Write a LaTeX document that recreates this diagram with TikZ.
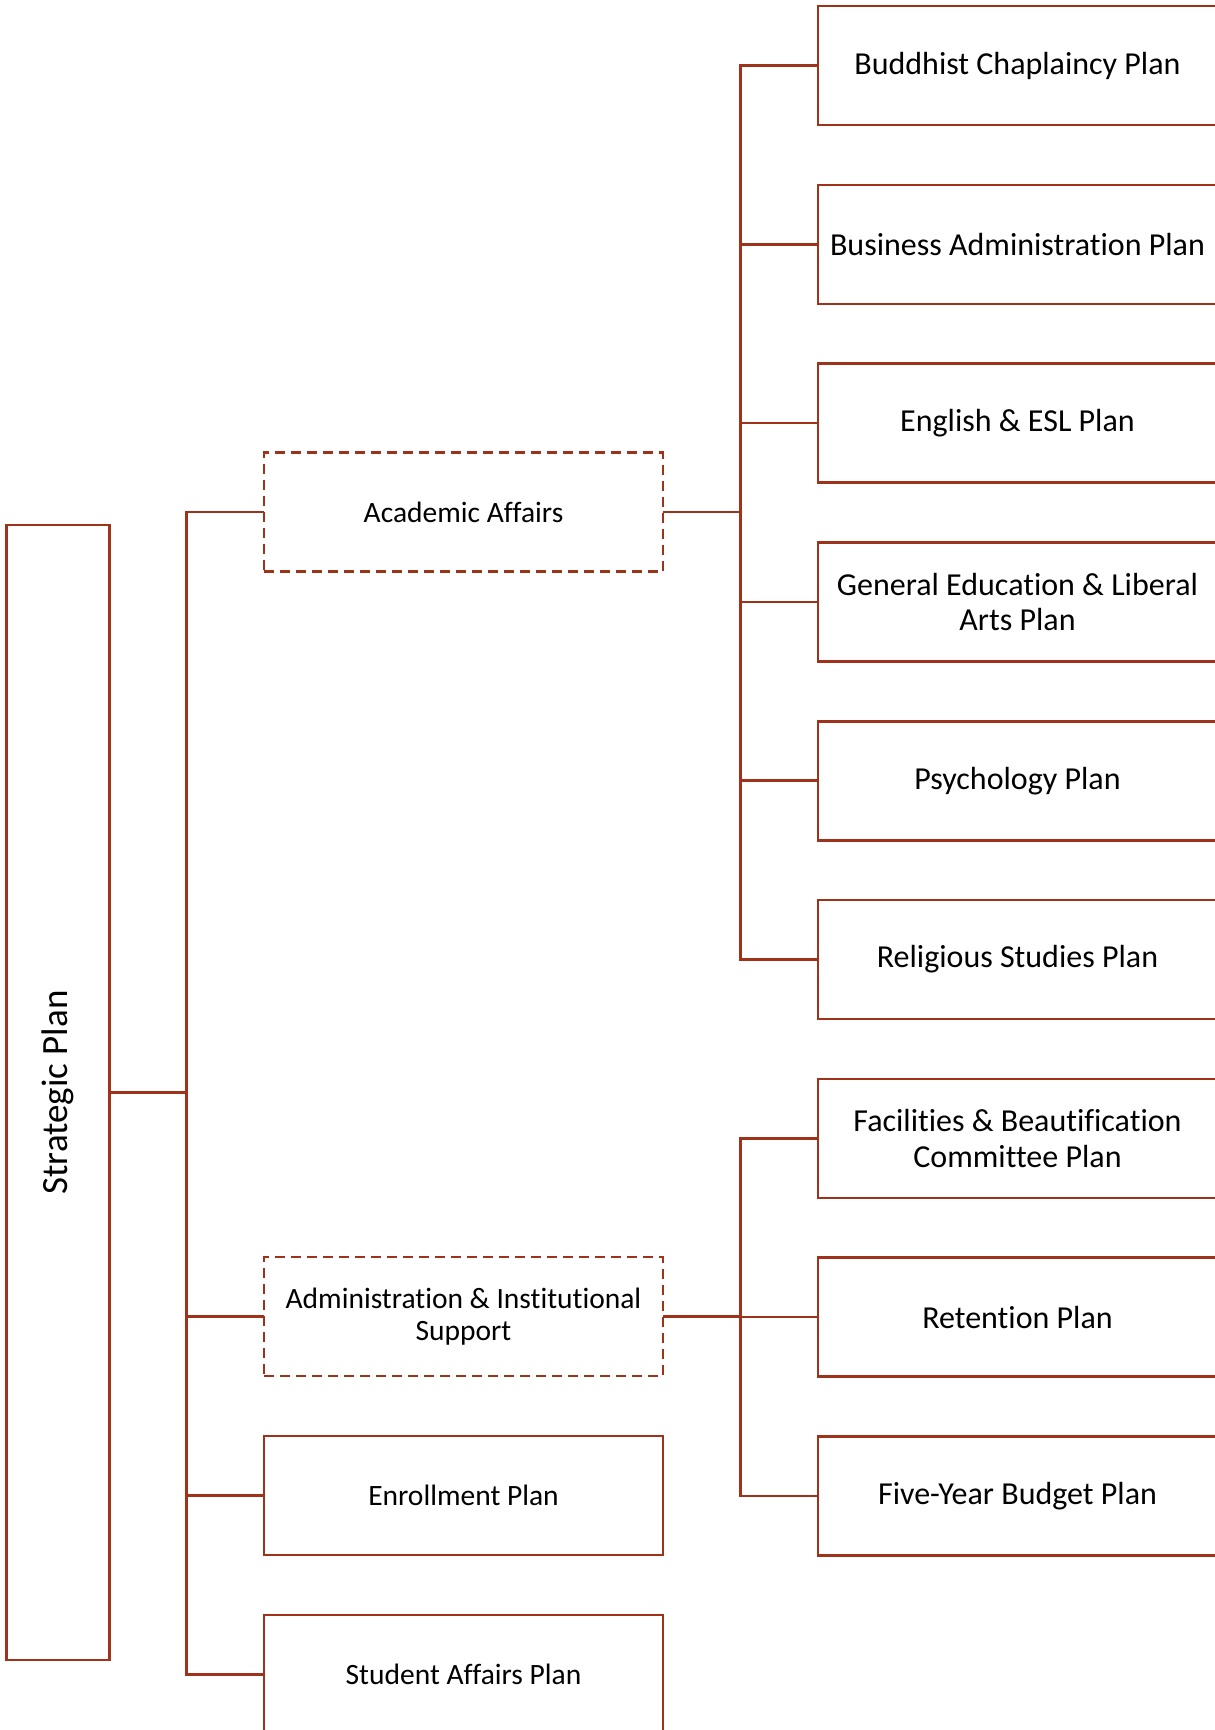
\documentclass[tikz,border=0pt]{standalone}
\usepackage{fontspec}
\setmainfont{Carlito}[Ligatures=NoCommon]
\definecolor{brick}{RGB}{160,50,26}
\begin{document}
\begin{tikzpicture}[x=1pt,y=-1pt,
  line width=2.6pt,
  box/.style={draw=brick, rectangle, minimum width=399pt, minimum height=119pt, inner sep=0pt, outer sep=0pt, align=center},
  bigtxt/.style={font=\fontsize{32}{35.5}\selectfont},
  smalltxt/.style={font=\fontsize{29.5}{32}\selectfont},
  dashbox/.style={box, dash pattern=on 10pt off 6pt},
  conn/.style={draw=brick, line width=2.6pt}]
\path[use as bounding box, clip] (0,0) rectangle (1215,1730);
\fill[white] (0,0) rectangle (1215,1730);
% Strategic plan
\node[draw=brick, rectangle, minimum width=102.5pt, minimum height=1135pt, inner sep=0pt, outer sep=0pt, font=\fontsize{37}{40}\selectfont] (sp) at (58,1092.5) {\rotatebox{90}{Strategic Plan}};
% trunk coordinates
\coordinate (t1) at (186.5,0);
\coordinate (t2) at (740.5,0);
% column 2
\node[dashbox, smalltxt] (aa) at (463.5,512) {Academic Affairs};
\node[dashbox, smalltxt] (ad) at (463.5,1316.5) {Administration \& Institutional\\Support};
\node[box, smalltxt] (en) at (463.5,1495.5) {Enrollment Plan};
\node[box, smalltxt] (sa) at (463.5,1674.5) {Student Affairs Plan};
% column 3
\node[box, bigtxt] (r1) at (1017.5,65.5) {Buddhist Chaplaincy Plan};
\node[box, bigtxt] (r2) at (1017.5,244.3) {Business Administration Plan};
\node[box, bigtxt] (r3) at (1017.5,423.1) {English \& ESL Plan};
\node[box, bigtxt] (r4) at (1017.5,601.9) {General Education \& Liberal\\Arts Plan};
\node[box, bigtxt] (r5) at (1017.5,780.7) {Psychology Plan};
\node[box, bigtxt] (r6) at (1017.5,959.5) {Religious Studies Plan};
\node[box, bigtxt] (r7) at (1017.5,1138.3) {Facilities \& Beautification\\Committee Plan};
\node[box, bigtxt] (r8) at (1017.5,1317.1) {Retention Plan};
\node[box, bigtxt] (r9) at (1017.5,1495.9) {Five-Year Budget Plan};
% connectors
\foreach \c in {aa,ad,en,sa}
  \draw[conn] (sp.east) -- (t1 |- sp.east) |- (\c.west);
\foreach \c in {r1,r2,r3,r4,r5,r6}
  \draw[conn] (aa.east) -- (t2 |- aa.east) |- (\c.west);
\foreach \c in {r7,r8,r9}
  \draw[conn] (ad.east) -- (t2 |- ad.east) |- (\c.west);
\end{tikzpicture}
\end{document}
